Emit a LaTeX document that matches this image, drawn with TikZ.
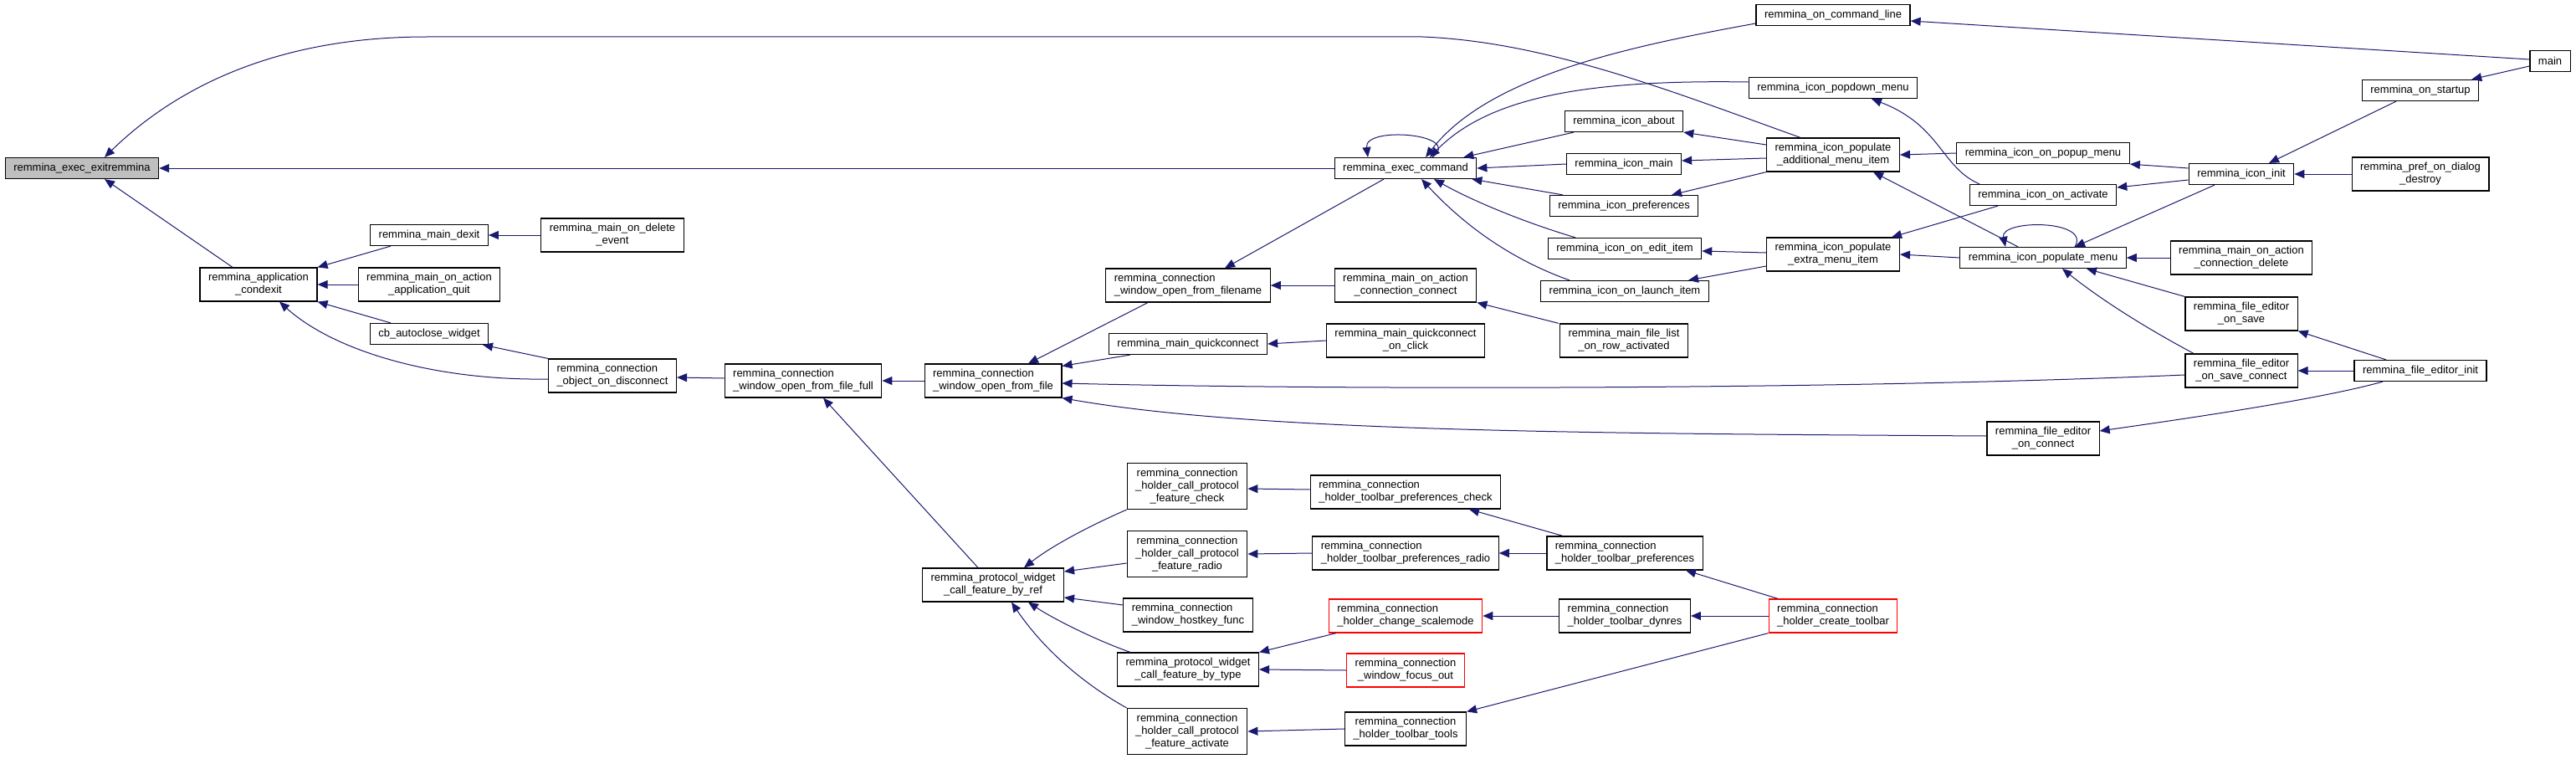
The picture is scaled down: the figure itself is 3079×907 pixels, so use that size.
\documentclass[tikz,border=0pt]{standalone}
\usepackage{fontspec}
\setmainfont{Liberation Sans}
\usepackage{tikz}
\usetikzlibrary{arrows.meta}
\definecolor{edgeblue}{HTML}{191970}
\definecolor{rootgray}{HTML}{BFBFBF}
\definecolor{truncred}{HTML}{FF0000}
\tikzset{
  fn/.style={rectangle, draw=black, line width=1.2pt, fill=white, font=\fontsize{13}{15}\selectfont,
             align=center, inner xsep=10pt, inner ysep=3pt, minimum height=25pt},
  fnroot/.style={fn, fill=rootgray},
  fntrunc/.style={fn, draw=truncred},
  l2/.style={minimum height=40pt},
  l3/.style={minimum height=55pt},
  lft/.style={align=left},
  call/.style={-{Triangle[length=12pt,width=10pt]}, line width=1pt, draw=edgeblue},
}

\begin{document}
\begin{tikzpicture}[x=1pt,y=-1pt]
  \useasboundingbox (0,0) rectangle (3079,907);

  \node[fnroot] (exitrem) at (98,201) {remmina\_exec\_exitremmina};
  \node[fn,l2] (condexit) at (309,340) {remmina\_application\\\_condexit};
  \node[fn] (dexit) at (513,281) {remmina\_main\_dexit};
  \node[fn,l2] (appquit) at (513,340) {remmina\_main\_on\_action\\\_application\_quit};
  \node[fn] (autoclose) at (513,399) {cb\_autoclose\_widget};
  \node[fn,l2] (delevent) at (732,281) {remmina\_main\_on\_delete\\\_event};
  \node[fn,l2,lft] (objdisc) at (732,449) {remmina\_connection\\\_object\_on\_disconnect};
  \node[fn,l2,lft] (filefull) at (960,455) {remmina\_connection\\\_window\_open\_from\_file\_full};
  \node[fn,l2,lft] (openfile) at (1187,455) {remmina\_connection\\\_window\_open\_from\_file};
  \node[fn,l2,lft] (openfilename) at (1420,341) {remmina\_connection\\\_window\_open\_from\_filename};
  \node[fn] (quickconn) at (1420,411) {remmina\_main\_quickconnect};
  \node[fn,l2] (byref) at (1187,699) {remmina\_protocol\_widget\\\_call\_feature\_by\_ref};
  \node[fn,l3] (fcheck) at (1419,581) {remmina\_connection\\\_holder\_call\_protocol\\\_feature\_check};
  \node[fn,l3] (fradio) at (1419,662) {remmina\_connection\\\_holder\_call\_protocol\\\_feature\_radio};
  \node[fn,l2,lft] (hostkey) at (1420,735) {remmina\_connection\\\_window\_hostkey\_func};
  \node[fn,l2] (bytype) at (1420,800) {remmina\_protocol\_widget\\\_call\_feature\_by\_type};
  \node[fn,l3] (factivate) at (1419,874) {remmina\_connection\\\_holder\_call\_protocol\\\_feature\_activate};

  \node[fn] (cmdline) at (2191,18) {remmina\_on\_command\_line};
  \node[fn] (execcmd) at (1680,201) {remmina\_exec\_command};
  \node[fn] (popdown) at (2191,105) {remmina\_icon\_popdown\_menu};
  \node[fn] (iabout) at (1941,145) {remmina\_icon\_about};
  \node[fn,l2] (addmenu) at (2191,185) {remmina\_icon\_populate\\\_additional\_menu\_item};
  \node[fn] (imain) at (1941,196) {remmina\_icon\_main};
  \node[fn] (iprefs) at (1941,246) {remmina\_icon\_preferences};
  \node[fn] (iedit) at (1942,297) {remmina\_icon\_on\_edit\_item};
  \node[fn,l2] (extramenu) at (2191,304) {remmina\_icon\_populate\\\_extra\_menu\_item};
  \node[fn] (ilaunch) at (1942,348) {remmina\_icon\_on\_launch\_item};
  \node[fn,l2] (actconnect) at (1680,341) {remmina\_main\_on\_action\\\_connection\_connect};
  \node[fn,l2] (qcclick) at (1680,407) {remmina\_main\_quickconnect\\\_on\_click};
  \node[fn,l2] (rowact) at (1941,407) {remmina\_main\_file\_list\\\_on\_row\_activated};

  \node[fn,l2,lft] (tbcheck) at (1680,588) {remmina\_connection\\\_holder\_toolbar\_preferences\_check};
  \node[fn,l2,lft] (tbradio) at (1680,661) {remmina\_connection\\\_holder\_toolbar\_preferences\_radio};
  \node[fn,l2,lft] (tbprefs) at (1942,661) {remmina\_connection\\\_holder\_toolbar\_preferences};
  \node[fntrunc,l2,lft] (scalemode) at (1680,736) {remmina\_connection\\\_holder\_change\_scalemode};
  \node[fn,l2,lft] (dynres) at (1942,736) {remmina\_connection\\\_holder\_toolbar\_dynres};
  \node[fntrunc,l2,lft] (createtb) at (2191,736) {remmina\_connection\\\_holder\_create\_toolbar};
  \node[fntrunc,l2] (focusout) at (1680,801) {remmina\_connection\\\_window\_focus\_out};
  \node[fn,l2] (tbtools) at (1680,871) {remmina\_connection\\\_holder\_toolbar\_tools};

  \node[fn] (mainfn) at (3048,73) {main};
  \node[fn] (startup) at (2893,108) {remmina\_on\_startup};
  \node[fn] (popupmenu) at (2442,183) {remmina\_icon\_on\_popup\_menu};
  \node[fn] (iinit) at (2679,208) {remmina\_icon\_init};
  \node[fn,l2] (dlgdestroy) at (2893,208) {remmina\_pref\_on\_dialog\\\_destroy};
  \node[fn] (iactivate) at (2442,233) {remmina\_icon\_on\_activate};
  \node[fn] (popmenu) at (2442,308) {remmina\_icon\_populate\_menu};
  \node[fn,l2] (actdelete) at (2679,308) {remmina\_main\_on\_action\\\_connection\_delete};
  \node[fn,l2] (fesave) at (2679,375) {remmina\_file\_editor\\\_on\_save};
  \node[fn,l2] (fesaveconn) at (2679,443) {remmina\_file\_editor\\\_on\_save\_connect};
  \node[fn] (feinit) at (2893,443) {remmina\_file\_editor\_init};
  \node[fn,l2] (feconnect) at (2442,524) {remmina\_file\_editor\\\_on\_connect};

  \draw[call] ([xshift=-39pt]addmenu.north) .. controls (2000,110) and (1850,50) .. (1700,44) -- (510,44)
    .. controls (330,44) and (210,105) .. ([xshift=27pt]exitrem.north);
  \draw[call] (execcmd.west) -- (exitrem.east);
  \draw[call] ([xshift=-31pt]condexit.north) -- ([xshift=27pt]exitrem.south);
  \draw[call] ([xshift=-46pt]dexit.south) -- (condexit.north east);
  \draw[call] (appquit.west) -- (condexit.east);
  \draw[call] ([xshift=-46pt]autoclose.north) -- (condexit.south east);
  \draw[call] ([yshift=-4pt]objdisc.west) .. controls (520,455) and (400,420) .. ([xshift=25pt]condexit.south);
  \draw[call] (delevent.west) -- (dexit.east);
  \draw[call] (objdisc.north west) -- ([xshift=64pt]autoclose.south);
  \draw[call] ([yshift=3pt]filefull.west) -- ([yshift=-2pt]objdisc.east);
  \draw[call] (openfile.west) -- (filefull.east);
  \draw[call] ([xshift=-18pt]byref.north) -- ([xshift=24pt]filefull.south);
  \draw[call] ([xshift=-48pt]openfilename.south) -- ([xshift=42pt]openfile.north);
  \draw[call] ([xshift=-69pt]quickconn.south) -- ([yshift=-3pt]openfile.north east);
  \draw[call] ([yshift=-5pt]fesaveconn.west) .. controls (2200,466) and (1600,466) .. ([yshift=-3pt]openfile.east);
  \draw[call] ([yshift=3pt]feconnect.west) .. controls (1900,518) and (1500,516) .. (openfile.south east);
  \draw[call] ([xshift=-26pt]execcmd.south) -- ([xshift=44pt]openfilename.north);
  \draw[call] (actconnect.west) -- (openfilename.east);
  \draw[call] (qcclick.west) -- (quickconn.east);
  \draw[call] ([xshift=-78pt]rowact.north) -- (actconnect.south east);

  \draw[call] ([xshift=32pt]execcmd.north) .. controls (1750,160) and (1630,150) .. ([xshift=-45pt]execcmd.north);
  \draw[call] ([yshift=-10pt]cmdline.west) .. controls (1950,55) and (1780,90) .. ([xshift=24pt]execcmd.north);
  \draw[call] ([yshift=7pt]popdown.west) .. controls (1900,95) and (1780,115) .. ([xshift=29pt]execcmd.north);
  \draw[call] ([xshift=-60pt]iabout.south) -- ([xshift=-16pt]execcmd.north east);
  \draw[call] (imain.west) -- (execcmd.east);
  \draw[call] ([xshift=-73pt]iprefs.north) -- ([xshift=-6pt]execcmd.south east);
  \draw[call] ([xshift=-59pt]iedit.north) .. controls (1820,265) and (1760,240) .. ([xshift=34pt]execcmd.south);
  \draw[call] ([xshift=-66pt]ilaunch.north) .. controls (1820,315) and (1760,280) .. ([xshift=19pt]execcmd.south);
  \draw[call] ([yshift=12pt]addmenu.west) -- (iabout.south east);
  \draw[call] ([yshift=-4pt]addmenu.west) -- ([yshift=4pt]imain.east);
  \draw[call] (addmenu.south west) -- ([xshift=57pt]iprefs.north);
  \draw[call] ([yshift=2pt]extramenu.west) -- ([yshift=-3pt]iedit.east);
  \draw[call] ([yshift=-14pt]extramenu.west) -- ([xshift=76pt]ilaunch.north);

  \draw[call] (popupmenu.west) -- (addmenu.east);
  \draw[call] ([xshift=-30pt]popmenu.north) -- ([xshift=48pt]addmenu.south);
  \draw[call] ([xshift=-54pt]iactivate.south) -- ([xshift=70pt]extramenu.north);
  \draw[call] (popmenu.west) -- (extramenu.east);
  \draw[call] ([xshift=-76pt]iactivate.north) .. controls (2320,200) and (2320,150) .. ([xshift=46pt]popdown.south);
  \draw[call] ([yshift=7pt]iinit.west) -- (popupmenu.south east);
  \draw[call] ([yshift=-7pt]iinit.west) -- ([yshift=9pt]iactivate.east);
  \draw[call] ([xshift=-32pt]iinit.south) -- ([xshift=38pt]popmenu.north);
  \draw[call] ([xshift=38pt]popmenu.north) .. controls (2500,262) and (2390,262) .. ([xshift=-45pt]popmenu.north);
  \draw[call] (actdelete.west) -- (popmenu.east);
  \draw[call] (fesave.north west) -- ([xshift=52pt]popmenu.south);
  \draw[call] ([xshift=-57pt]fesaveconn.north) .. controls (2580,400) and (2520,365) .. ([xshift=23pt]popmenu.south);
  \draw[call] ([xshift=-29pt]startup.south) -- ([xshift=33pt]iinit.north);
  \draw[call] (dlgdestroy.west) -- (iinit.east);
  \draw[call] ([yshift=2pt]mainfn.west) -- ([yshift=-7pt]cmdline.east);
  \draw[call] ([yshift=-6pt]mainfn.west) -- ([xshift=-9pt]startup.north east);
  \draw[call] ([xshift=-41pt]feinit.north) -- (fesave.south east);
  \draw[call] (feinit.west) -- (fesaveconn.east);
  \draw[call] ([xshift=-45pt]feinit.south) .. controls (2780,475) and (2650,495) .. ([yshift=9pt]feconnect.east);

  \draw[call] (fcheck.south west) .. controls (1310,625) and (1260,650) .. ([xshift=37pt]byref.north);
  \draw[call] ([yshift=-11pt]fradio.west) -- ([yshift=16pt]byref.east);
  \draw[call] ([yshift=12pt]hostkey.west) -- ([yshift=-15pt]byref.east);
  \draw[call] ([xshift=-69pt]bytype.north) .. controls (1310,765) and (1260,740) .. ([xshift=42pt]byref.south);
  \draw[call] (factivate.north west) .. controls (1300,820) and (1250,780) .. ([xshift=22pt]byref.south);
  \draw[call] ([yshift=3pt]tbcheck.west) -- ([yshift=-3pt]fcheck.east);
  \draw[call] (tbradio.west) -- (fradio.east);
  \draw[call] (tbtools.west) -- (factivate.east);
  \draw[call] ([xshift=-83pt]scalemode.south) -- (bytype.north east);
  \draw[call] (focusout.west) -- (bytype.east);
  \draw[call] ([xshift=-74pt]tbprefs.north) -- ([xshift=76pt]tbcheck.south);
  \draw[call] (tbprefs.west) -- (tbradio.east);
  \draw[call] ([xshift=-66pt]createtb.north) -- ([xshift=73pt]tbprefs.south);
  \draw[call] (dynres.west) -- (scalemode.east);
  \draw[call] (createtb.west) -- (dynres.east);
  \draw[call] (createtb.south west) -- (tbtools.north east);
\end{tikzpicture}
\end{document}
